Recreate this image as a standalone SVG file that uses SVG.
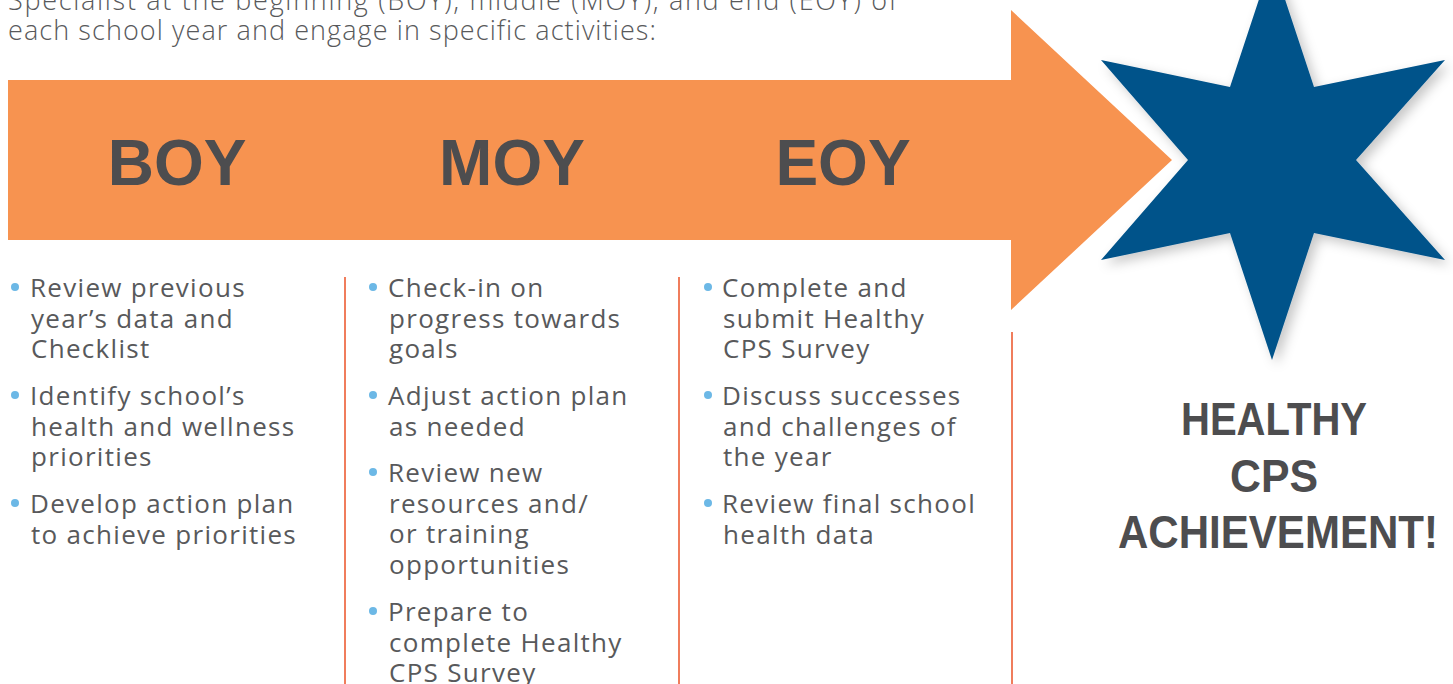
<svg xmlns="http://www.w3.org/2000/svg" width="1453" height="684" viewBox="0 0 1453 684">
<style>
.intro{font-family:"Open Sans","Liberation Sans",sans-serif;font-size:27px;fill:#58595b;font-weight:300;letter-spacing:1.1px}
.hdr{font-family:"Liberation Sans",Arial,sans-serif;font-size:64px;font-weight:bold;fill:#4d4d4f;text-anchor:middle}
.item{font-family:"Open Sans","Liberation Sans",sans-serif;font-size:26px;fill:#58595b;letter-spacing:1.3px}
.dot{fill:#6cb8e6}
.div{stroke:#f07d5c;stroke-width:2}
.goal{font-family:"Liberation Sans",Arial,sans-serif;font-size:46px;font-weight:bold;fill:#4d4d4f;text-anchor:middle}
</style>
<defs>
<filter id="sh" x="-20%" y="-20%" width="140%" height="140%">
<feDropShadow dx="5" dy="5" stdDeviation="6" flood-color="#000" flood-opacity="0.22"/>
</filter>
</defs>
<rect width="1453" height="684" fill="#fff"/>
<g id="intro">
<text class="intro" x="8" y="10" textLength="890" lengthAdjust="spacing">Specialist at the beginning (BOY), middle (MOY), and end (EOY) of</text>
<text class="intro" x="8" y="40" textLength="649" lengthAdjust="spacing">each school year and engage in specific activities:</text>
</g>
<g id="arrow">
<polygon points="8,80 1011,80 1011,10 1172,160 1011,310 1011,240 8,240" fill="#f79350"/>
<text class="hdr" x="177" y="185">BOY</text>
<text class="hdr" x="512" y="185">MOY</text>
<text class="hdr" x="843" y="185">EOY</text>
</g>
<g id="star">
<polygon filter="url(#sh)" fill="#03538a" points="1272,-40 1314,87 1445,60 1356,160 1445,260 1314,233 1272,360 1230,233 1101,260 1188,160 1101,60 1230,87"/>
</g>
<g id="connectors">
<line class="div" x1="345" y1="277" x2="345" y2="684"/>
<line class="div" x1="679" y1="277" x2="679" y2="684"/>
<line class="div" x1="1012" y1="332" x2="1012" y2="684"/>
</g>
<g id="boy">
<circle class="dot" cx="15" cy="287" r="4"/>
<circle class="dot" cx="15" cy="395" r="4"/>
<circle class="dot" cx="15" cy="503" r="4"/>
<text class="item" x="30" y="297">Review previous</text>
<text class="item" x="31" y="328">year’s data and</text>
<text class="item" x="31" y="358">Checklist</text>
<text class="item" x="30" y="405">Identify school’s</text>
<text class="item" x="31" y="436">health and wellness</text>
<text class="item" x="31" y="466">priorities</text>
<text class="item" x="30" y="513">Develop action plan</text>
<text class="item" x="31" y="544">to achieve priorities</text>
</g>
<g id="moy">
<circle class="dot" cx="373" cy="287" r="4"/>
<circle class="dot" cx="373" cy="395" r="4"/>
<circle class="dot" cx="373" cy="472" r="4"/>
<circle class="dot" cx="373" cy="611" r="4"/>
<text class="item" x="388" y="297">Check-in on</text>
<text class="item" x="389" y="328">progress towards</text>
<text class="item" x="389" y="358">goals</text>
<text class="item" x="388" y="405">Adjust action plan</text>
<text class="item" x="389" y="436">as needed</text>
<text class="item" x="388" y="482">Review new</text>
<text class="item" x="389" y="513">resources and/</text>
<text class="item" x="389" y="543">or training</text>
<text class="item" x="389" y="574">opportunities</text>
<text class="item" x="388" y="621">Prepare to</text>
<text class="item" x="389" y="652">complete Healthy</text>
<text class="item" x="389" y="682">CPS Survey</text>
</g>
<g id="eoy">
<circle class="dot" cx="708" cy="287" r="4"/>
<circle class="dot" cx="708" cy="395" r="4"/>
<circle class="dot" cx="708" cy="503" r="4"/>
<text class="item" x="722" y="297">Complete and</text>
<text class="item" x="723" y="328">submit Healthy</text>
<text class="item" x="723" y="358">CPS Survey</text>
<text class="item" x="722" y="405">Discuss successes</text>
<text class="item" x="723" y="436">and challenges of</text>
<text class="item" x="723" y="466">the year</text>
<text class="item" x="722" y="513">Review final school</text>
<text class="item" x="723" y="544">health data</text>
</g>
<g id="goal">
<text class="goal" x="1274" y="435" textLength="186" lengthAdjust="spacingAndGlyphs">HEALTHY</text>
<text class="goal" x="1274" y="492" textLength="88" lengthAdjust="spacingAndGlyphs">CPS</text>
<text class="goal" x="1278" y="548" textLength="320" lengthAdjust="spacingAndGlyphs">ACHIEVEMENT!</text>
</g>
</svg>
